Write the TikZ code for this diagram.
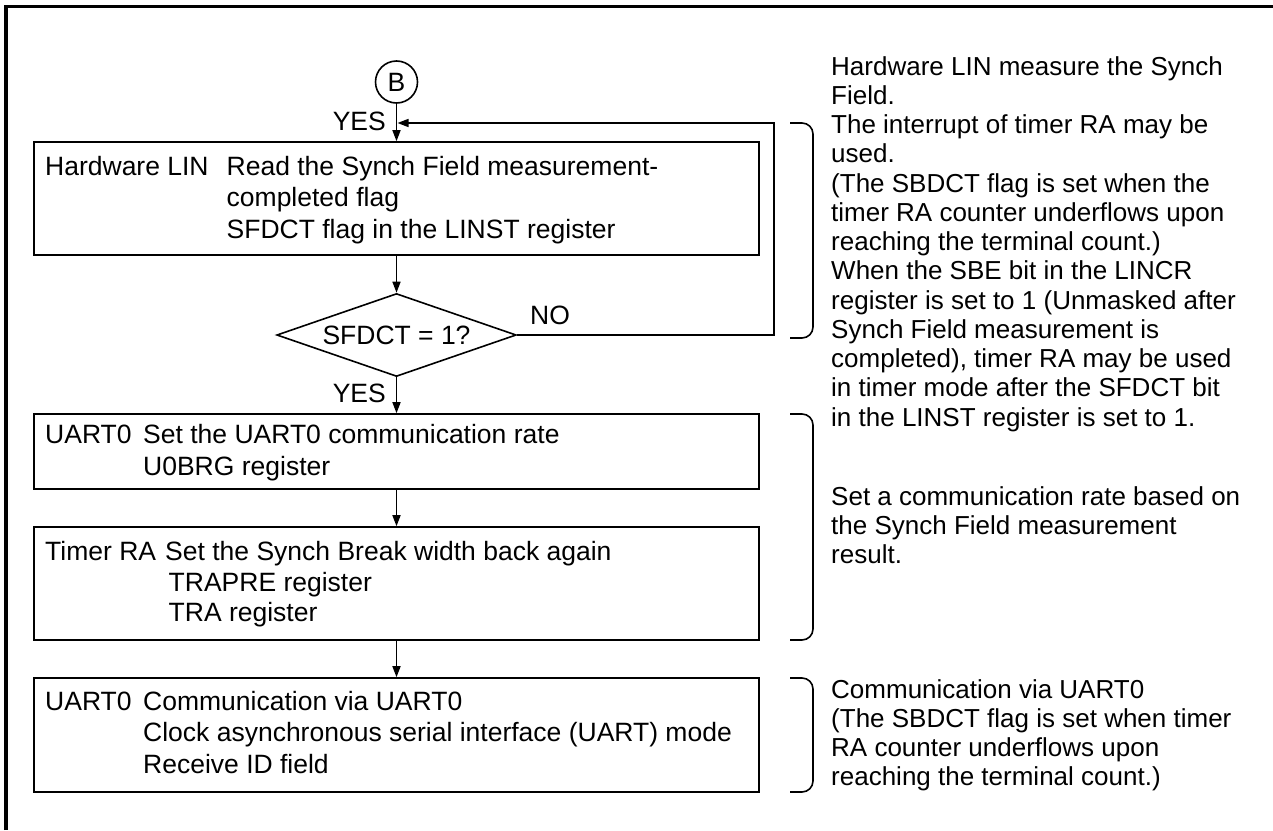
\documentclass[tikz,border=0pt]{standalone}
\usepackage{fontspec}
\setmainfont{Liberation Sans}
\usetikzlibrary{shapes.geometric,arrows.meta}
\begin{document}
\begin{tikzpicture}[x=1pt,y=-1pt,
  ln/.style={line width=1.6pt},
  box/.style={draw,ln,minimum width=725pt,inner sep=0pt},
  arr/.style={ln,-{Triangle[length=11pt,width=8pt]}},
  bt/.style={anchor=base west,inner sep=0pt,font=\fontsize{26.5}{31.5}\selectfont},
  rt/.style={anchor=base west,inner sep=0pt,font=\fontsize{26}{29.25}\selectfont},
  bracket/.style={ln,rounded corners=11pt}]
\useasboundingbox (0,0) rectangle (1273,830);
% frame
\draw[line width=3.5pt] (6,830) -- (6,6.5) -- (1273,6.5);
% connector circle
\node[draw,ln,circle,minimum size=42pt,inner sep=0pt,font=\fontsize{26.5}{31.5}\selectfont] (c) at (396.5,82) {B};
% boxes
\node[box,minimum height=113pt] (b1) at (396.5,198.5) {};
\node[draw,ln,diamond,aspect=2.9,minimum width=239.5pt,minimum height=83pt,inner sep=0pt,font=\fontsize{26.5}{31.5}\selectfont] (d) at (396.5,335) {SFDCT = 1?};
\node[box,minimum height=75pt] (b2) at (396.5,451.5) {};
\node[box,minimum height=113pt] (b3) at (396.5,583.5) {};
\node[box,minimum height=114pt] (b4) at (396.5,735) {};
% box texts
\node[bt] (t1a) at (45,175) {Hardware LIN};
\node[bt] (t1b) at (226.5,175) {Read the Synch Field measurement-};
\node[bt] (t1c) at (226.5,206.5) {completed flag};
\node[bt] (t1d) at (226.5,238) {SFDCT flag in the LINST register};
\node[bt] (t2a) at (45,443) {UART0};
\node[bt] (t2b) at (143,443) {Set the UART0 communication rate};
\node[bt] (t2c) at (143,475) {U0BRG register};
\node[bt] (t3a) at (45,560) {Timer RA};
\node[bt] (t3b) at (165,560) {Set the Synch Break width back again};
\node[bt] (t3c) at (168.5,591) {TRAPRE register};
\node[bt] (t3d) at (168.5,621.5) {TRA register};
\node[bt] (t4a) at (45,710) {UART0};
\node[bt] (t4b) at (143,710) {Communication via UART0};
\node[bt] (t4c) at (143,741) {Clock asynchronous serial interface (UART) mode};
\node[bt] (t4d) at (143,773) {Receive ID field};
% labels
\node[bt,anchor=base east] (yes1) at (386,130.5) {YES};
\node[bt,anchor=base east] (yes2) at (386,402) {YES};
\node[bt] (no) at (530,324) {NO};
% connectors
\coordinate (fbc) at (774,123);
\coordinate (fb) at (397.5,123);
\draw[arr] (c.south) -- (b1.north);
\draw[arr] (b1.south) -- (d.north);
\draw[arr] (d.south) -- (b2.north);
\draw[arr] (b2.south) -- (b3.north);
\draw[arr] (b3.south) -- (b4.north);
\draw[arr] (d.east) -| (fbc) -- (fb);
% brackets
\draw[bracket] (790,123) -- (813,123) -- (813,338) -- (790,338);
\draw[bracket] (790,414) -- (813,414) -- (813,640) -- (790,640);
\draw[bracket] (790,678) -- (813,678) -- (813,792) -- (790,792);
% right notes
\node[rt] (r1) at (831,75) {Hardware LIN measure the Synch};
\node[rt] (r2) at (831,104.25) {Field.};
\node[rt] (r3) at (831,133.5) {The interrupt of timer RA may be};
\node[rt] (r4) at (831,162.75) {used.};
\node[rt] (r5) at (831,192) {(The SBDCT flag is set when the};
\node[rt] (r6) at (831,221.25) {timer RA counter underflows upon};
\node[rt] (r7) at (831,250.5) {reaching the terminal count.)};
\node[rt] (r8) at (831,279.75) {When the SBE bit in the LINCR};
\node[rt] (r9) at (831,309) {register is set to 1 (Unmasked after};
\node[rt] (r10) at (831,338.25) {Synch Field measurement is};
\node[rt] (r11) at (831,367.5) {completed), timer RA may be used};
\node[rt] (r12) at (831,396.75) {in timer mode after the SFDCT bit};
\node[rt] (r13) at (831,426) {in the LINST register is set to 1.};
\node[rt] (s1) at (831,505) {Set a communication rate based on};
\node[rt] (s2) at (831,534) {the Synch Field measurement};
\node[rt] (s3) at (831,563) {result.};
\node[rt] (u1) at (831,698) {Communication via UART0};
\node[rt] (u2) at (831,727) {(The SBDCT flag is set when timer};
\node[rt] (u3) at (831,756) {RA counter underflows upon};
\node[rt] (u4) at (831,785) {reaching the terminal count.)};
\end{tikzpicture}
\end{document}
